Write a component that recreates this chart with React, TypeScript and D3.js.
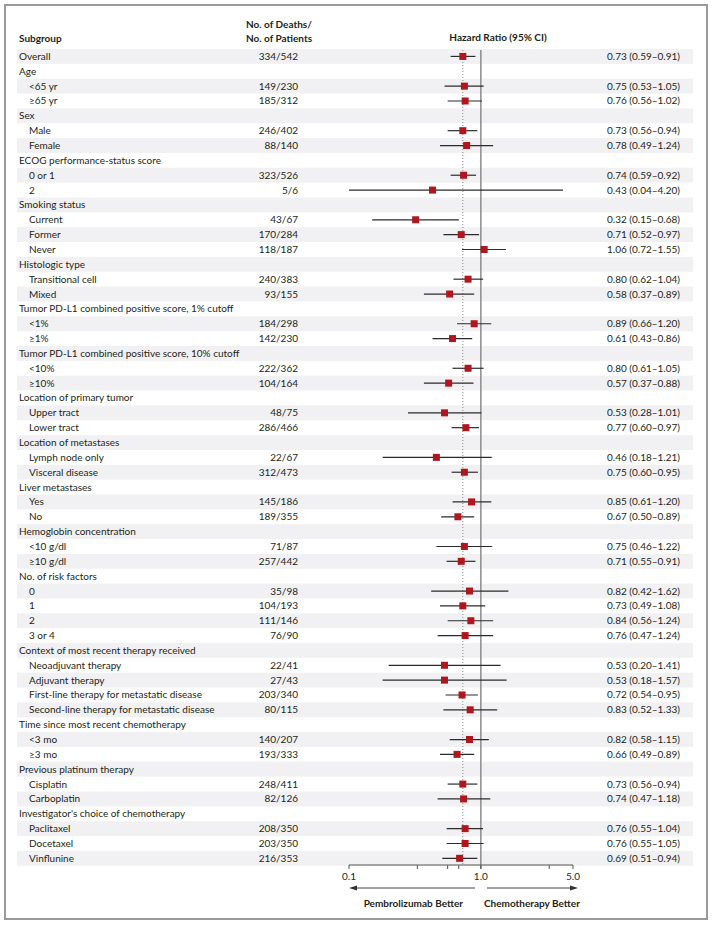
import React, { useEffect, useRef } from 'react';
import * as d3 from 'd3';

// subgroup rows, top to bottom; rows with no HR are group headings
const labels = [
  'Overall', 'Age', '<65 yr', '≥65 yr', 'Sex', 'Male', 'Female',
  'ECOG performance-status score', '0 or 1', '2',
  'Smoking status', 'Current', 'Former', 'Never',
  'Histologic type', 'Transitional cell', 'Mixed',
  'Tumor PD-L1 combined positive score, 1% cutoff', '<1%', '≥1%',
  'Tumor PD-L1 combined positive score, 10% cutoff', '<10%', '≥10%',
  'Location of primary tumor', 'Upper tract', 'Lower tract',
  'Location of metastases', 'Lymph node only', 'Visceral disease',
  'Liver metastases', 'Yes', 'No',
  'Hemoglobin concentration', '<10 g/dl', '≥10 g/dl',
  'No. of risk factors', '0', '1', '2', '3 or 4',
  'Context of most recent therapy received', 'Neoadjuvant therapy', 'Adjuvant therapy',
  'First-line therapy for metastatic disease', 'Second-line therapy for metastatic disease',
  'Time since most recent chemotherapy', '<3 mo', '≥3 mo',
  'Previous platinum therapy', 'Cisplatin', 'Carboplatin',
  "Investigator's choice of chemotherapy", 'Paclitaxel', 'Docetaxel', 'Vinflunine',
];

const counts = [
  '334/542', '', '149/230', '185/312', '', '246/402', '88/140',
  '', '323/526', '5/6',
  '', '43/67', '170/284', '118/187',
  '', '240/383', '93/155',
  '', '184/298', '142/230',
  '', '222/362', '104/164',
  '', '48/75', '286/466',
  '', '22/67', '312/473',
  '', '145/186', '189/355',
  '', '71/87', '257/442',
  '', '35/98', '104/193', '111/146', '76/90',
  '', '22/41', '27/43', '203/340', '80/115',
  '', '140/207', '193/333',
  '', '248/411', '82/126',
  '', '208/350', '203/350', '216/353',
];

const hr = [
  0.73, null, 0.75, 0.76, null, 0.73, 0.78,
  null, 0.74, 0.43,
  null, 0.32, 0.71, 1.06,
  null, 0.80, 0.58,
  null, 0.89, 0.61,
  null, 0.80, 0.57,
  null, 0.53, 0.77,
  null, 0.46, 0.75,
  null, 0.85, 0.67,
  null, 0.75, 0.71,
  null, 0.82, 0.73, 0.84, 0.76,
  null, 0.53, 0.53, 0.72, 0.83,
  null, 0.82, 0.66,
  null, 0.73, 0.74,
  null, 0.76, 0.76, 0.69,
];

const lo = [
  0.59, null, 0.53, 0.56, null, 0.56, 0.49,
  null, 0.59, 0.04,
  null, 0.15, 0.52, 0.72,
  null, 0.62, 0.37,
  null, 0.66, 0.43,
  null, 0.61, 0.37,
  null, 0.28, 0.60,
  null, 0.18, 0.60,
  null, 0.61, 0.50,
  null, 0.46, 0.55,
  null, 0.42, 0.49, 0.56, 0.47,
  null, 0.20, 0.18, 0.54, 0.52,
  null, 0.58, 0.49,
  null, 0.56, 0.47,
  null, 0.55, 0.55, 0.51,
];

const hi = [
  0.91, null, 1.05, 1.02, null, 0.94, 1.24,
  null, 0.92, 4.20,
  null, 0.68, 0.97, 1.55,
  null, 1.04, 0.89,
  null, 1.20, 0.86,
  null, 1.05, 0.88,
  null, 1.01, 0.97,
  null, 1.21, 0.95,
  null, 1.20, 0.89,
  null, 1.22, 0.91,
  null, 1.62, 1.08, 1.24, 1.24,
  null, 1.41, 1.57, 0.95, 1.33,
  null, 1.15, 0.89,
  null, 0.94, 1.18,
  null, 1.04, 1.05, 0.94,
];

const tickLabels = [0.1, 1.0, 5.0];
const minorTicks = [0.33, 0.56, 0.68, 3.3];
const overallHR = 0.73;

const W = 712;
const H = 925;
const FONT = 'Lato, "Open Sans", sans-serif';

const ForestPlot = () => {
  const ref = useRef<SVGSVGElement>(null);

  useEffect(() => {
    const svg = d3.select(ref.current);
    svg.selectAll('*').remove();

    const x = d3.scaleLog().domain([0.1, 5]).range([349, 573]);
    const y = d3.scaleBand<number>()
      .domain(d3.range(labels.length))
      .range([49, 49 + 14.85 * labels.length])
      .padding(0);
    const yc = (i: number) => (y(i) as number) + y.bandwidth() / 2;
    const axisY = 865;
    const f2 = d3.format('.2f');

    // frame
    svg.append('rect')
      .attr('x', 5).attr('y', 5).attr('width', 702).attr('height', 914)
      .attr('fill', '#fff').attr('stroke', '#9a9a9a').attr('stroke-width', 2);

    // stripes
    svg.append('g').selectAll('rect')
      .data(labels.map((_, i) => i).filter(i => i % 2 === 0))
      .join('rect')
      .attr('x', 17).attr('width', 676)
      .attr('y', i => y(i) as number)
      .attr('height', y.bandwidth())
      .attr('fill', '#f1f1f3');

    const text = svg.append('g')
      .attr('font-family', FONT)
      .attr('font-size', 10)
      .attr('fill', '#231f20');

    // headers
    text.append('text').attr('x', 19).attr('y', 38).attr('dy', '0.35em')
      .attr('font-weight', 700).text('Subgroup');
    text.append('text').attr('x', 246).attr('y', 24).attr('dy', '0.35em')
      .attr('font-weight', 700).text('No. of Deaths/');
    text.append('text').attr('x', 246).attr('y', 38).attr('dy', '0.35em')
      .attr('font-weight', 700).text('No. of Patients');
    text.append('text').attr('x', 498).attr('y', 37).attr('dy', '0.35em')
      .attr('text-anchor', 'middle').attr('font-weight', 700).text('Hazard Ratio (95% CI)');

    // subgroup labels
    text.selectAll('text.lab')
      .data(labels)
      .join('text')
      .attr('class', 'lab')
      .attr('x', (_, i) => (hr[i] !== null && i > 0 ? 29 : 19))
      .attr('y', (_, i) => yc(i))
      .attr('dy', '0.35em')
      .text(d => d);

    text.selectAll('text.cnt')
      .data(counts)
      .join('text')
      .attr('class', 'cnt')
      .attr('x', 298)
      .attr('y', (_, i) => yc(i))
      .attr('dy', '0.35em')
      .attr('text-anchor', 'end')
      .text(d => d);

    text.selectAll('text.hr')
      .data(hr)
      .join('text')
      .attr('class', 'hr')
      .attr('x', 680)
      .attr('y', (_, i) => yc(i))
      .attr('dy', '0.35em')
      .attr('text-anchor', 'end')
      .text((d, i) => (d === null ? '' : `${f2(d)} (${f2(lo[i] as number)}–${f2(hi[i] as number)})`));

    // reference lines
    svg.append('line')
      .attr('x1', x(overallHR)).attr('x2', x(overallHR))
      .attr('y1', 50).attr('y2', axisY)
      .attr('stroke', '#8a8a8a').attr('stroke-width', 1)
      .attr('stroke-dasharray', '1,2');
    svg.append('line')
      .attr('x1', x(1)).attr('x2', x(1))
      .attr('y1', 50).attr('y2', axisY + 4)
      .attr('stroke', '#8c8c8c').attr('stroke-width', 1.5);

    const rows = hr.map((d, i) => ({ i, d, lo: lo[i], hi: hi[i] })).filter(r => r.d !== null);

    svg.append('g').selectAll('line')
      .data(rows)
      .join('line')
      .attr('x1', r => x(Math.max(0.1, r.lo as number)))
      .attr('x2', r => x(Math.min(5, r.hi as number)))
      .attr('y1', r => yc(r.i)).attr('y2', r => yc(r.i))
      .attr('stroke', '#2b2b2b').attr('stroke-width', 1.2);

    const sq = 7;
    svg.append('g').selectAll('rect')
      .data(rows)
      .join('rect')
      .attr('x', r => x(r.d as number) - sq / 2)
      .attr('y', r => yc(r.i) - sq / 2)
      .attr('width', sq).attr('height', sq)
      .attr('fill', '#b0161e');

    // axis
    const ax = svg.append('g').attr('stroke', '#555').attr('stroke-width', 1);
    ax.append('line').attr('x1', x(0.1)).attr('x2', x(5)).attr('y1', axisY).attr('y2', axisY);
    ax.selectAll('line.t')
      .data([...tickLabels, ...minorTicks])
      .join('line')
      .attr('class', 't')
      .attr('x1', d => x(d)).attr('x2', d => x(d))
      .attr('y1', axisY).attr('y2', axisY + 4);

    text.selectAll('text.tick')
      .data(tickLabels)
      .join('text')
      .attr('class', 'tick')
      .attr('x', d => x(d))
      .attr('y', 876)
      .attr('dy', '0.35em')
      .attr('text-anchor', 'middle')
      .text(d => d3.format('.1f')(d));

    // direction arrows
    const arrowY = 888;
    svg.append('line').attr('x1', 352).attr('x2', 475).attr('y1', arrowY).attr('y2', arrowY)
      .attr('stroke', '#444').attr('stroke-width', 1);
    svg.append('path').attr('d', `M349,${arrowY} l8,-2.5 v5 z`).attr('fill', '#333');
    svg.append('line').attr('x1', 487).attr('x2', 575).attr('y1', arrowY).attr('y2', arrowY)
      .attr('stroke', '#444').attr('stroke-width', 1);
    svg.append('path').attr('d', `M578,${arrowY} l-8,-2.5 v5 z`).attr('fill', '#333');

    text.append('text').attr('x', 463).attr('y', 903).attr('dy', '0.35em')
      .attr('text-anchor', 'end').attr('font-weight', 700).text('Pembrolizumab Better');
    text.append('text').attr('x', 484).attr('y', 903).attr('dy', '0.35em')
      .attr('font-weight', 700).text('Chemotherapy Better');
  }, []);

  return (
    <svg ref={ref} width={W} height={H}
      style={{ position: 'absolute', left: 0, top: 0, background: '#fff' }} />
  );
};

export default function App() {
  return <ForestPlot />;
}
